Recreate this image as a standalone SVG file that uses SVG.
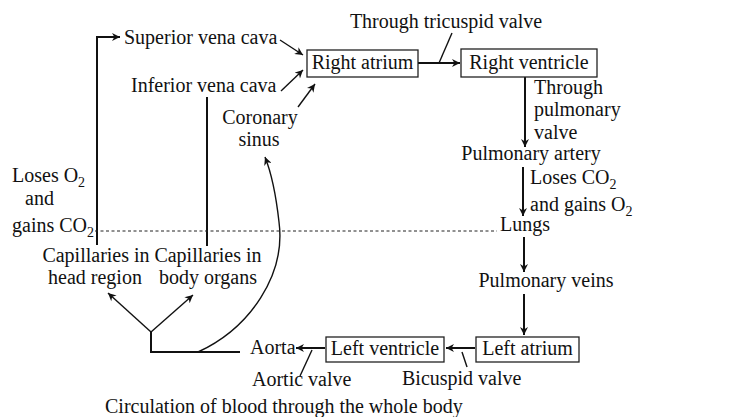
<svg xmlns="http://www.w3.org/2000/svg" width="750" height="417" viewBox="0 0 750 417">
<style>
text{font-family:"Liberation Serif","Times New Roman",serif;font-size:20px;fill:#111}
.m{text-anchor:middle}
.box{fill:#fff;stroke:#222;stroke-width:1.3}
.c{fill:none;stroke:#111;stroke-width:2}
.t{fill:none;stroke:#111;stroke-width:1.4}
.d{fill:none;stroke:#222;stroke-width:1;stroke-dasharray:3 2.5}
.s{font-size:14px}
</style>
<defs>
<marker id="ah" viewBox="0 0 10 10" refX="10" refY="5" markerWidth="9" markerHeight="8" markerUnits="userSpaceOnUse" orient="auto">
<path d="M0,0 L10,5 L0,10 L3,5 z" fill="#111"/>
</marker>
</defs>
<rect width="750" height="417" fill="#fff"/>
<g id="connectors">
<path class="c" d="M418,63 H460" marker-end="url(#ah)"/>
<path class="t" d="M439,63 L452,33"/>
<path class="c" d="M525,77 V147" marker-end="url(#ah)"/>
<path class="c" d="M523,167 V216" marker-end="url(#ah)"/>
<path class="c" d="M524,237 V272" marker-end="url(#ah)"/>
<path class="c" d="M524,294 V335" marker-end="url(#ah)"/>
<path class="c" d="M475,348 H446" marker-end="url(#ah)"/>
<path class="t" d="M462,352 L467,367"/>
<path class="c" d="M325,348 H296" marker-end="url(#ah)"/>
<path class="t" d="M312,350 L300,376"/>
<path class="c" d="M240,352 H151 V332" stroke-width="2.5"/>
<path class="t" d="M151,332 L108,293" marker-end="url(#ah)"/>
<path class="t" d="M151,332 L193,295" marker-end="url(#ah)"/>
<path class="t" d="M198,352 C250,328 286,275 279,222 C276,195 271,172 265,157" marker-end="url(#ah)"/>
<path class="c" d="M97,245 V37 H120" marker-end="url(#ah)"/>
<path class="c" d="M207,246 V97"/>
<path class="t" d="M280,40 L303,55" marker-end="url(#ah)"/>
<path class="t" d="M281,91 L303,70" marker-end="url(#ah)"/>
<path class="t" d="M298,107 L315,84" marker-end="url(#ah)"/>
<path class="d" d="M95,231 H497"/>
</g>
<g id="right-atrium"><rect class="box" x="307" y="50" width="111" height="27"/><text class="m" x="362.5" y="69">Right atrium</text></g>
<g id="right-ventricle"><rect class="box" x="461" y="49" width="136" height="28"/><text class="m" x="529" y="69">Right ventricle</text></g>
<g id="left-ventricle"><rect class="box" x="326" y="337" width="118" height="25"/><text class="m" x="385" y="355">Left ventricle</text></g>
<g id="left-atrium"><rect class="box" x="476" y="337" width="103" height="25"/><text class="m" x="527.5" y="355">Left atrium</text></g>
<g id="superior-vena-cava"><text x="124" y="44">Superior vena cava</text></g>
<g id="inferior-vena-cava"><text x="131" y="92">Inferior vena cava</text></g>
<g id="coronary-sinus"><text class="m" x="260" y="124">Coronary</text><text class="m" x="259" y="146">sinus</text></g>
<g id="tricuspid"><text class="m" x="446" y="28">Through tricuspid valve</text></g>
<g id="pulmonary-valve"><text x="534" y="94">Through</text><text x="534" y="116">pulmonary</text><text x="534" y="139">valve</text></g>
<g id="pulmonary-artery"><text class="m" x="531" y="160">Pulmonary artery</text></g>
<g id="lungs-exchange"><text x="530" y="184">Loses CO<tspan class="s" dy="5">2</tspan></text><text x="530" y="211">and gains O<tspan class="s" dy="5">2</tspan></text></g>
<g id="lungs"><text x="500" y="231">Lungs</text></g>
<g id="pulmonary-veins"><text class="m" x="546" y="287">Pulmonary veins</text></g>
<g id="body-exchange"><text x="12" y="182">Loses O<tspan class="s" dy="5">2</tspan></text><text x="25" y="205">and</text><text x="12" y="232">gains CO<tspan class="s" dy="5">2</tspan></text></g>
<g id="capillaries-head"><text class="m" x="96" y="262">Capillaries in</text><text class="m" x="95" y="284">head region</text></g>
<g id="capillaries-body"><text class="m" x="208" y="262">Capillaries in</text><text class="m" x="208" y="284">body organs</text></g>
<g id="aorta"><text x="250" y="354">Aorta</text></g>
<g id="aortic-valve"><text x="252" y="386">Aortic valve</text></g>
<g id="bicuspid-valve"><text x="402" y="385">Bicuspid valve</text></g>
<g id="caption"><text x="105" y="413">Circulation of blood through the whole body</text></g>
</svg>
